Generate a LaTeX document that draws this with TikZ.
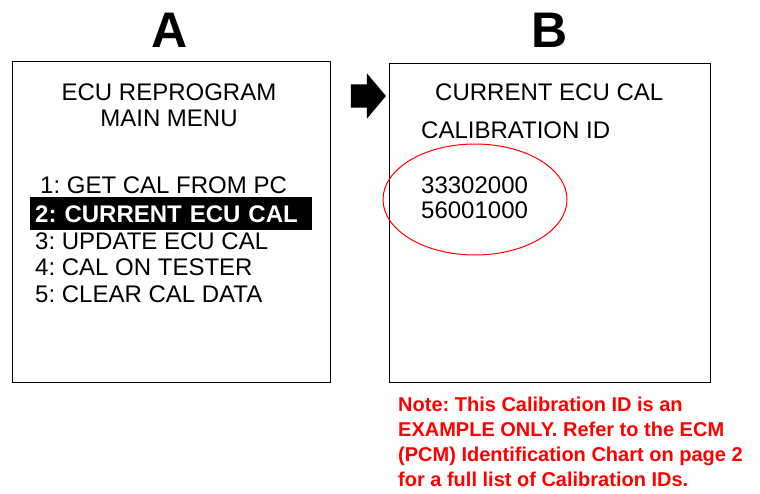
\documentclass[tikz,border=0pt]{standalone}
\usepackage{fontspec}
\setmainfont{Liberation Sans}
\frenchspacing
\usetikzlibrary{shapes.geometric, shapes.arrows}
\tikzset{
screen/.style={draw, line width=1.3pt, anchor=north west, inner sep=0pt},
scrtext/.style={anchor=base west, inner sep=0pt, font=\fontsize{24}{27}\selectfont},
bigletter/.style={anchor=base, inner sep=0pt, font=\fontsize{50}{50}\selectfont\bfseries}
}
\begin{document}
\begin{tikzpicture}[x=1pt, y=-1pt]
\useasboundingbox (0,0) rectangle (760,493);
\node[bigletter] (labA) at (170,47) {A};
\node[bigletter] (labB) at (550,47) {B};
\node[screen, minimum width=318, minimum height=321] (scrA) at (12,61) {};
\node[screen, minimum width=321, minimum height=319] (scrB) at (389,63) {};
\node[single arrow, fill=black, inner xsep=0pt, inner ysep=11.5pt, minimum width=0pt, minimum height=35, single arrow head extend=11pt, single arrow tip angle=100] (arr) at (363.5,96) {};
\node[scrtext, anchor=base] (hdA1) at (169,100) {ECU REPROGRAM};
\node[scrtext, anchor=base] (hdA2) at (169,126) {MAIN MENU};
\node[scrtext] (item1) at (40,193) {1: GET CAL FROM PC};
\node[scrtext] (item3) at (35,249) {3: UPDATE ECU CAL};
\node[scrtext] (item4) at (35,275) {4: CAL ON TESTER};
\node[scrtext] (item5) at (35,302) {5: CLEAR CAL DATA};
\node[scrtext, fill=black, text=white, font=\fontsize{24}{27}\selectfont\bfseries, inner xsep=5pt, inner ysep=4pt, text width=272, text height=21, text depth=4] (item2) at (30,222) {2: CURRENT ECU CAL};
\node[scrtext] (hdB) at (435,100) {CURRENT ECU CAL};
\node[scrtext] (calid) at (421,138) {CALIBRATION ID};
\node[scrtext] (id1) at (421,193) {33302000};
\node[scrtext] (id2) at (421,218) {56001000};
\node[draw=red, line width=1pt, ellipse, inner sep=0pt, minimum width=184, minimum height=111] (idring) at (475,199.5) {};
\node[anchor=north west, inner sep=0pt, align=left, text=red, font=\fontsize{20}{25}\selectfont\bfseries] (note) at (398,397) {Note: This Calibration ID is an\\EXAMPLE ONLY. Refer to the ECM\\(PCM) Identification Chart on page 2\\for a full list of Calibration IDs.};
\end{tikzpicture}
\end{document}
